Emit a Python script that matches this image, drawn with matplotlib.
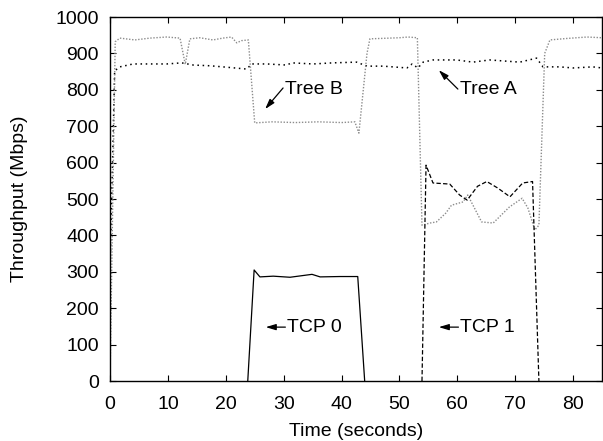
import matplotlib
matplotlib.use('Agg')
import matplotlib.pyplot as plt

# Tree A (black dotted)
tree_a_t = [0, 0.8, 1.7, 4, 6.9, 9.8, 12.4, 14.4, 17.3, 20.2, 23.6, 24.5, 27.1,
            30.5, 31.4, 35.1, 38.5, 42.6, 44.4, 47.2, 51.3, 52.2, 53.2, 54.1,
            55.8, 59.9, 62.7, 65.6, 70.8, 73.7, 74.8, 77.7, 80, 83.4, 85]
tree_a_v = [300, 852, 863, 871, 871, 871, 874, 868, 866, 862, 857, 871, 871,
            868, 874, 871, 874, 876, 865, 865, 860, 871, 860, 876,
            882, 882, 876, 882, 876, 887, 863, 863, 860, 863, 860]

# Tree B (grey dotted)
tree_b_t = [0, 0.9, 1.7, 4.3, 6.9, 9.8, 12.1, 13.0, 13.8, 15.5, 17.8, 19.5, 21.0,
            21.9, 22.7, 23.9, 25.0, 28, 32, 36, 40, 42.3, 43.0, 44.4, 44.9,
            46.6, 50.0, 51.5, 53.1, 53.9, 55.3, 56.4, 58.0, 59.0, 61.0, 61.8,
            64.2, 66.2, 69.0, 71.2, 72.2, 73.4, 74.1, 75.1, 76.0, 78.9, 82.4, 85]
tree_b_v = [0, 932, 942, 937, 942, 945, 942, 870, 940, 943, 937, 942, 945,
            929, 935, 937, 709, 712, 710, 712, 710, 712, 681, 900, 940,
            941, 943, 945, 943, 428, 434, 437, 461, 483, 492, 511,
            437, 434, 478, 502, 475, 415, 428, 900, 937, 941, 945, 943]

# TCP 0 (solid)
tcp0_t = [23.8, 24.9, 25.9, 28.2, 31.1, 34.9, 36.3, 39.7, 42.8, 44.0]
tcp0_v = [0, 305, 286, 288, 285, 293, 286, 287, 287, 0]

# TCP 1 (dashed)
tcp1_t = [53.9, 54.6, 55.8, 58.7, 60.4, 61.7, 63.5, 65.1, 67.0, 69.1, 71.3, 73.0, 74.1]
tcp1_v = [0, 593, 544, 541, 511, 497, 535, 548, 530, 506, 544, 548, 0]

# labels: text, text position (left, middle), arrow tail, arrow tip
labels = ['Tree B', 'Tree A', 'TCP 0', 'TCP 1']
label_pos = [(30.3, 800), (60.4, 800), (30.5, 148), (60.4, 148)]
arrow_tail = [(29.9, 805), (60.1, 802), (30.3, 148), (60.2, 148)]
arrow_tip = [(26.8, 747), (56.8, 854), (26.9, 148), (56.8, 148)]

plt.rcParams['font.family'] = ['Liberation Sans', 'DejaVu Sans']

fig = plt.figure(figsize=(6.03, 4.41), dpi=100)
ax = fig.add_axes([110 / 603, 1 - 381 / 441, 492 / 603, 364 / 441])

ax.plot(tree_a_t, tree_a_v, color='black', lw=1.1, linestyle=(0, (1, 2.4)))
ax.plot(tree_b_t, tree_b_v, color='0.55', lw=1.0, linestyle=(0, (1, 1.2)))
ax.plot(tcp0_t, tcp0_v, color='black', lw=0.9)
ax.plot(tcp1_t, tcp1_v, color='black', lw=0.9, linestyle=(0, (3.5, 1.8)))

ax.set_xlim(0, 85)
ax.set_ylim(0, 1000)
ax.set_xticks(range(0, 81, 10))
ax.set_yticks(range(0, 1001, 100))
ax.tick_params(direction='in', length=4, width=0.8, top=True, right=True,
               labelsize=14)
ax.tick_params(axis='y', pad=8)
ax.tick_params(axis='x', pad=11)
for s in ax.spines.values():
    s.set_linewidth(1.0)

ax.set_xlabel('Time (seconds)', fontsize=14, labelpad=7)
ax.set_ylabel('Throughput (Mbps)', fontsize=14, labelpad=20)

for txt, pos, tail, tip in zip(labels, label_pos, arrow_tail, arrow_tip):
    ax.text(pos[0], pos[1], txt, fontsize=14, ha='left', va='center')
    ax.annotate('', xy=tip, xytext=tail,
                arrowprops=dict(arrowstyle='-|>,head_length=0.5,head_width=0.15',
                                color='black', lw=0.9, shrinkA=0, shrinkB=0,
                                mutation_scale=12))

fig.savefig('out.png', dpi=100)
